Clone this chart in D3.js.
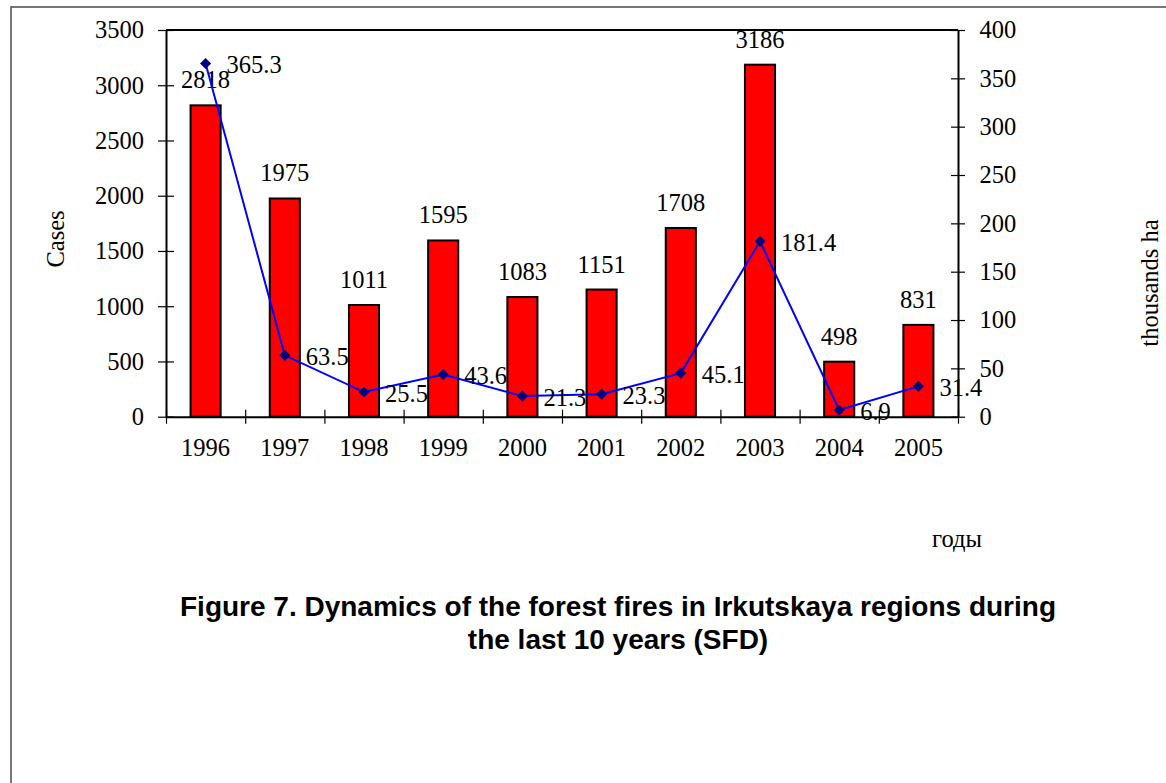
<!doctype html>
<html>
<head>
<meta charset="utf-8">
<title>Forest fires Irkutsk</title>
<script src="https://d3js.org/d3.v7.min.js"></script>
<style>
  body { margin: 0; background: #fff; }
  svg { display: block; }
  .lbl { font-family: "Liberation Serif", "Times New Roman", serif; font-size: 24.5px; fill: #000; }
  .axis text { font-family: "Liberation Serif", "Times New Roman", serif; font-size: 24.5px; fill: #000; }
  .axis path { stroke: #000; stroke-width: 2; }
  .axis line { stroke: #000; stroke-width: 1.2; }
  .title { font-family: "Liberation Sans", Arial, sans-serif; font-size: 28px; font-weight: bold; fill: #000; }
</style>
</head>
<body>
<script>
  // data
  var years = ["1996","1997","1998","1999","2000","2001","2002","2003","2004","2005"];
  var cases = [2818, 1975, 1011, 1595, 1083, 1151, 1708, 3186, 498, 831];
  var area = [365.3, 63.5, 25.5, 43.6, 21.3, 23.3, 45.1, 181.4, 6.9, 31.4];
  var leftTicks = [0, 500, 1000, 1500, 2000, 2500, 3000, 3500];
  var rightTicks = [0, 50, 100, 150, 200, 250, 300, 350, 400];

  var W = 1166, H = 783;
  var margin = {top: 30, left: 166};
  var width = 792, height = 386.7;

  var svg = d3.select("body").append("svg").attr("width", W).attr("height", H);

  // outer frame (page border)
  svg.append("rect").attr("x", 11).attr("y", 7).attr("width", 1300).attr("height", 1000)
     .attr("fill", "none").attr("stroke", "#555").attr("stroke-width", 1.6);

  var g = svg.append("g").attr("transform", "translate(" + margin.left + "," + margin.top + ")");

  var x = d3.scaleBand().domain(years).range([0, width]).paddingInner(0.62).paddingOuter(0.31);
  var xEdge = d3.scaleLinear().domain([0, years.length]).range([0, width]);
  var yL = d3.scaleLinear().domain([0, 3500]).range([height, 0]);
  var yR = d3.scaleLinear().domain([0, 400]).range([height, 0]);
  var cx = function(i) { return x(years[i]) + x.bandwidth() / 2; };

  // top frame line of the plot
  g.append("line").attr("x1", 0).attr("x2", width).attr("y1", 0).attr("y2", 0)
   .attr("stroke", "#000").attr("stroke-width", 2);

  // bars
  g.selectAll(".bar").data(cases).enter().append("rect")
   .attr("class", "bar")
   .attr("x", function(d, i) { return x(years[i]); })
   .attr("width", x.bandwidth())
   .attr("y", function(d) { return yL(d); })
   .attr("height", function(d) { return height - yL(d); })
   .attr("fill", "#ff0000").attr("stroke", "#000").attr("stroke-width", 2);

  // left axis
  var axL = g.append("g").attr("class", "axis")
    .call(d3.axisLeft(yL).tickValues(leftTicks).tickFormat(d3.format("d"))
      .tickSizeInner(8).tickSizeOuter(0).tickPadding(14));
  axL.selectAll(".tick line").attr("x1", 8);

  // right axis
  var axR = g.append("g").attr("class", "axis").attr("transform", "translate(" + width + ",0)")
    .call(d3.axisRight(yR).tickValues(rightTicks).tickFormat(d3.format("d"))
      .tickSizeInner(7).tickSizeOuter(0).tickPadding(14.5));
  axR.selectAll(".tick line").attr("x1", -7);

  // bottom axis: ticks at category boundaries, labels at centres
  var axB = g.append("g").attr("class", "axis").attr("transform", "translate(0," + height + ")")
    .call(d3.axisBottom(xEdge).tickValues(d3.range(0, years.length + 1)).tickSizeInner(7).tickSizeOuter(0).tickFormat(""));
  axB.selectAll(".tick line").attr("y1", -7);
  axB.select(".domain").attr("stroke-width", 2.5);

  g.append("g").attr("class", "axis").attr("transform", "translate(0," + height + ")")
    .call(d3.axisBottom(x).tickSize(0).tickPadding(22))
    .call(function(s) { s.select(".domain").remove(); });

  // bar value labels
  g.selectAll(".blab").data(cases).enter().append("text")
   .attr("class", "lbl").attr("text-anchor", "middle")
   .attr("x", function(d, i) { return cx(i); })
   .attr("y", function(d) { return yL(d) - 17; })
   .text(function(d) { return d; });

  // area line
  var line = d3.line().x(function(d, i) { return cx(i); }).y(function(d) { return yR(d); });
  g.append("path").datum(area).attr("d", line)
   .attr("fill", "none").attr("stroke", "#0000ff").attr("stroke-width", 2);

  g.selectAll(".pt").data(area).enter().append("path")
   .attr("d", d3.symbol(d3.symbolSquare, 62))
   .attr("transform", function(d, i) { return "translate(" + cx(i) + "," + yR(d) + ") rotate(45)"; })
   .attr("fill", "#000080");

  g.selectAll(".alab").data(area).enter().append("text")
   .attr("class", "lbl").attr("text-anchor", "start")
   .attr("x", function(d, i) { return cx(i) + 21; })
   .attr("y", function(d) { return yR(d) + 1; })
   .attr("dy", "0.35em")
   .text(function(d) { return d.toFixed(1); });

  // axis titles
  svg.append("text").attr("class", "lbl").attr("text-anchor", "middle")
     .attr("transform", "translate(64,239) rotate(-90)").text("Cases");
  svg.append("text").attr("class", "lbl").attr("text-anchor", "middle")
     .attr("transform", "translate(1158,283) rotate(-90)").text("thousands ha");
  svg.append("text").attr("class", "lbl").attr("text-anchor", "middle")
     .attr("x", 957).attr("y", 547).text("годы");

  // caption
  svg.append("text").attr("class", "title").attr("text-anchor", "middle")
     .attr("x", 618).attr("y", 616).text("Figure 7. Dynamics of the forest fires in Irkutskaya regions during");
  svg.append("text").attr("class", "title").attr("text-anchor", "middle")
     .attr("x", 618).attr("y", 649).text("the last 10 years (SFD)");
</script>
</body>
</html>
